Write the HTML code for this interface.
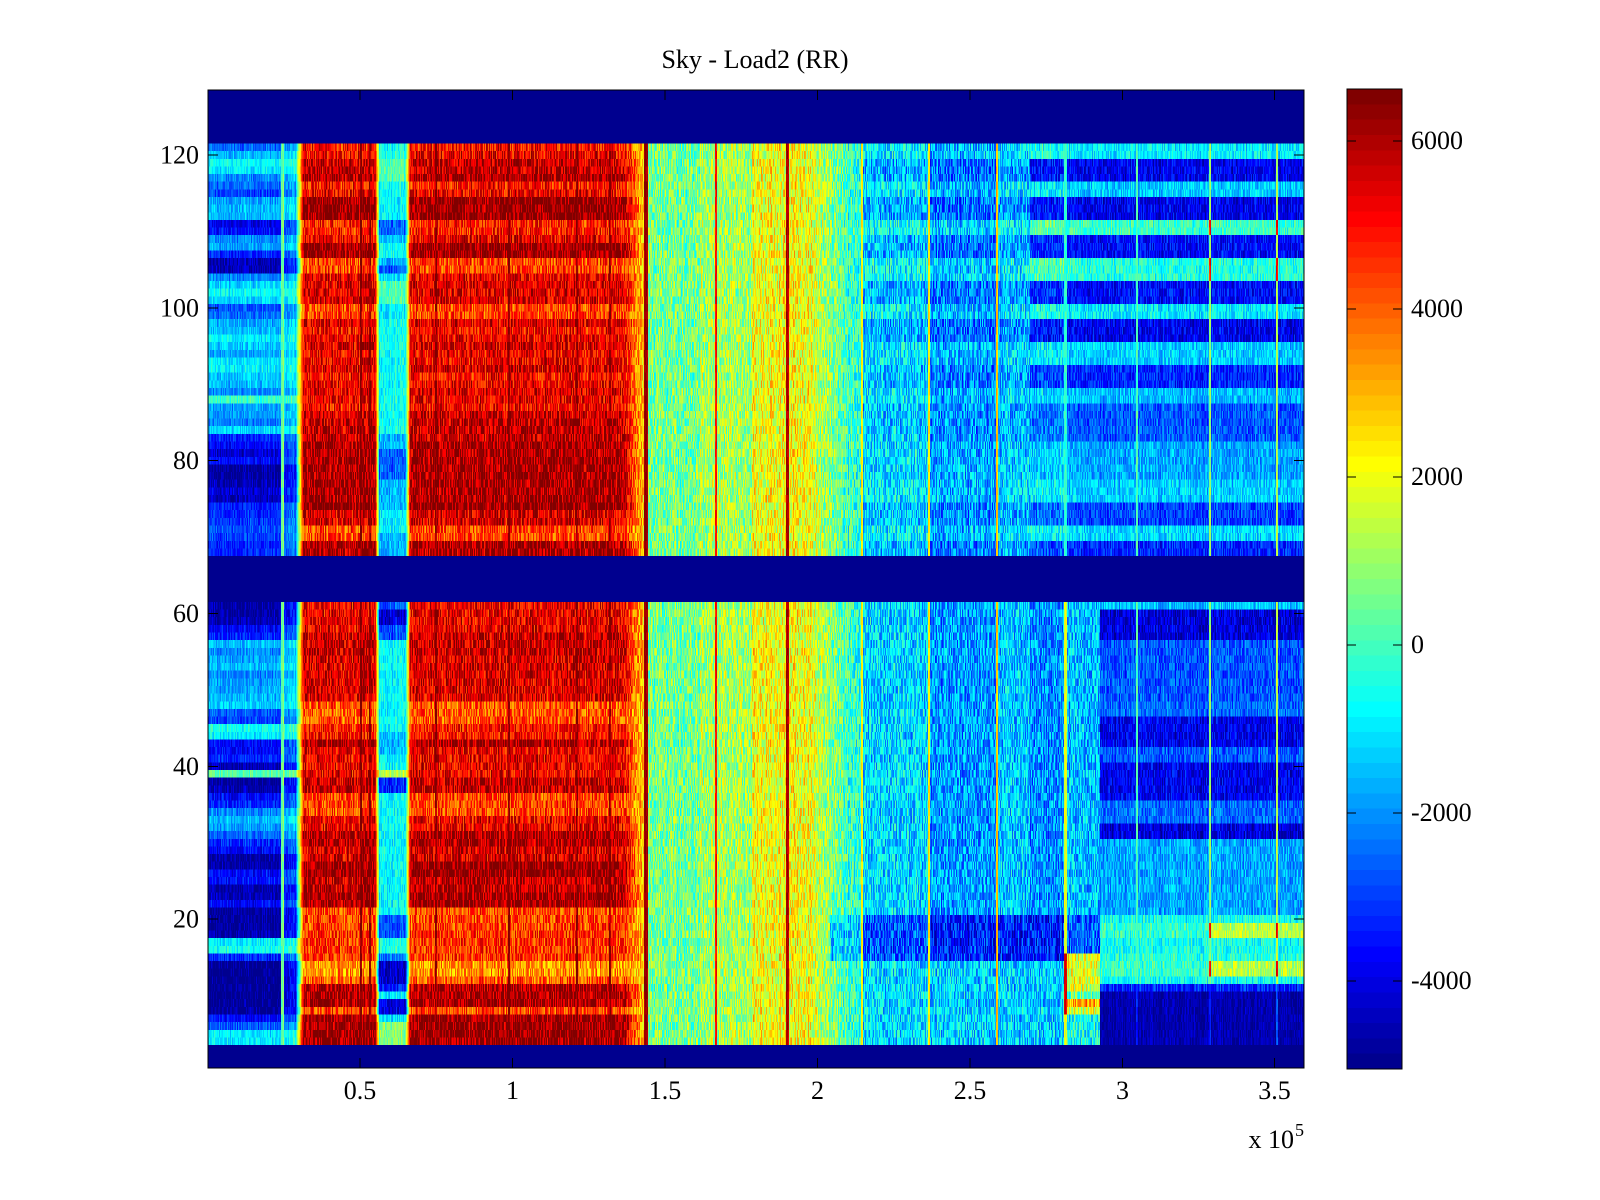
<!DOCTYPE html>
<html>
<head>
<meta charset="utf-8">
<style>
html,body{margin:0;padding:0;background:#fff;width:1600px;height:1200px;overflow:hidden}
#wrap{position:relative;width:1600px;height:1200px;background:#fff}
#fb{position:absolute;left:0;top:0}
#hm{position:absolute;left:208px;top:90px;width:1096px;height:978px;image-rendering:pixelated}
#cb{position:absolute;left:1347px;top:89px;width:55px;height:980px;image-rendering:pixelated}
#ov{position:absolute;left:0;top:0}
text{font-family:"Liberation Serif","DejaVu Serif",serif;font-size:26px;fill:#000}
</style>
</head>
<body>
<div id="wrap">
<svg id="fb" width="1600" height="1200" xmlns="http://www.w3.org/2000/svg">
<defs>
<linearGradient id="g1" x1="0" x2="1" y1="0" y2="0">
<stop offset="0" stop-color="#0050ff"/>
<stop offset="0.068" stop-color="#00a0ff"/>
<stop offset="0.08" stop-color="#40ffc0"/>
<stop offset="0.087" stop-color="#e00000"/>
<stop offset="0.153" stop-color="#d00000"/>
<stop offset="0.157" stop-color="#00e0ff"/>
<stop offset="0.18" stop-color="#00e0ff"/>
<stop offset="0.186" stop-color="#d00000"/>
<stop offset="0.38" stop-color="#d00000"/>
<stop offset="0.4" stop-color="#ffb000"/>
<stop offset="0.403" stop-color="#80ff80"/>
<stop offset="0.45" stop-color="#a0ff60"/>
<stop offset="0.496" stop-color="#ffff00"/>
<stop offset="0.55" stop-color="#e0ff20"/>
<stop offset="0.59" stop-color="#40ffc0"/>
<stop offset="0.6" stop-color="#00e0ff"/>
<stop offset="0.66" stop-color="#00a0ff"/>
<stop offset="0.722" stop-color="#00c0ff"/>
<stop offset="0.78" stop-color="#0060ff"/>
<stop offset="1" stop-color="#0050ff"/>
</linearGradient>
<linearGradient id="g2" x1="0" x2="0" y1="0" y2="1">
<stop offset="0" stop-color="#800000"/>
<stop offset="0.125" stop-color="#ff0000"/>
<stop offset="0.375" stop-color="#ffff00"/>
<stop offset="0.5" stop-color="#80ff80"/>
<stop offset="0.625" stop-color="#00ffff"/>
<stop offset="0.875" stop-color="#0000ff"/>
<stop offset="1" stop-color="#00008f"/>
</linearGradient>
</defs>
<rect x="208" y="90" width="1096" height="978" fill="#00008f"/>
<rect x="208" y="143" width="1096" height="413" fill="url(#g1)"/>
<rect x="208" y="602" width="1096" height="443" fill="url(#g1)"/>
<rect x="1347" y="89" width="55" height="980" fill="url(#g2)"/>
</svg>
<canvas id="hm" width="1096" height="128"></canvas>
<canvas id="cb" width="1" height="64"></canvas>
<svg id="ov" width="1600" height="1200" xmlns="http://www.w3.org/2000/svg">
<g stroke="#000" stroke-width="1" fill="none" shape-rendering="crispEdges">
<rect x="208" y="90" width="1096" height="978"/>
<rect x="1347" y="89" width="55" height="980"/>
<path d="M360 1068V1058M360 90V100M512.5 1068V1058M512.5 90V100M665 1068V1058M665 90V100M817.5 1068V1058M817.5 90V100M970 1068V1058M970 90V100M1122.5 1068V1058M1122.5 90V100M1274.5 1068V1058M1274.5 90V100"/>
<path d="M208 155H218M1304 155H1294M208 307.8H218M1304 307.8H1294M208 460.6H218M1304 460.6H1294M208 613.4H218M1304 613.4H1294M208 766.3H218M1304 766.3H1294M208 919.1H218M1304 919.1H1294"/>
<path d="M1347 141H1356M1402 141H1393M1347 309H1356M1402 309H1393M1347 477H1356M1402 477H1393M1347 645H1356M1402 645H1393M1347 813H1356M1402 813H1393M1347 981H1356M1402 981H1393"/>
</g>
<text x="755" y="68" text-anchor="middle">Sky - Load2 (RR)</text>
<g text-anchor="end">
<text x="199" y="163.5">120</text>
<text x="199" y="316.3">100</text>
<text x="199" y="469.1">80</text>
<text x="199" y="621.9">60</text>
<text x="199" y="774.8">40</text>
<text x="199" y="927.6">20</text>
</g>
<g text-anchor="middle">
<text x="360" y="1099">0.5</text>
<text x="512.5" y="1099">1</text>
<text x="665" y="1099">1.5</text>
<text x="817.5" y="1099">2</text>
<text x="970" y="1099">2.5</text>
<text x="1122.5" y="1099">3</text>
<text x="1274.5" y="1099">3.5</text>
</g>
<text x="1294" y="1148" text-anchor="end">x 10</text>
<text x="1295" y="1136" style="font-size:18px">5</text>
<g>
<text x="1411" y="149">6000</text>
<text x="1411" y="317">4000</text>
<text x="1411" y="485">2000</text>
<text x="1411" y="653">0</text>
<text x="1411" y="821">-2000</text>
<text x="1411" y="989">-4000</text>
</g>
</svg>
</div>
<script>
(function(){
var sd=987654321;
function rnd(){sd^=sd<<13;sd^=sd>>>17;sd^=sd<<5;return ((sd>>>0)%1000003)/1000003;}
function rl(a){var o=[];for(var q=0;q<a.length;q++){for(var j=0;j<a[q][0];j++)o.push(a[q][1]);}return o;}
var TL=[0.22,0.3,0.37,0.35,0.25,0.22,0.18,0.28,0.3,0.3,0.1,0.13,0.25,0.28,0.15,0.05,0.05,0.25,0.33,0.37,0.33,0.2,0.22,0.28,0.3,0.35,0.32,0.28,0.35,0.36,0.32,0.3,0.25,0.42,0.27,0.27,0.24,0.33,0.15,0.12,0.08,0.12,0.02,0.02,0.05,0.08,0.05,0.15,0.15,0.17,0.2,0.18,0.15,0.15];
var BL=[0.03,0.03,0.04,0.12,0.15,0.3,0.25,0.28,0.3,0.25,0.28,0.28,0.3,0.32,0.2,0.18,0.38,0.35,0.12,0.12,0.15,0.05,0.45,0.02,0.04,0.12,0.15,0.25,0.3,0.27,0.22,0.15,0.12,0.03,0.03,0.12,0.13,0.04,0.05,0.12,0.02,0.02,0.02,0.04,0.35,0.38,0.15,0.01,0.01,0.01,0.01,0.01,0.01,0.02,0.12,0.2,0.35,0.35];
var TR=rl([[1,.85],[1,.88],[2,.92],[1,.95],[1,.85],[1,.88],[3,.97],[2,.84],[1,.88],[2,.97],[2,.8],[1,.88],[3,.9],[2,.8],[1,.9],[1,.86],[1,.88],[1,.9],[1,.87],[1,.88],[1,.9],[1,.86],[1,.88],[1,.9],[1,.88],[1,.86],[4,.92],[8,.95],[1,.98],[2,.9],[2,.8],[2,.95]]);
var BR=rl([[4,.88],[3,.92],[6,.9],[3,.78],[2,.85],[1,.95],[4,.88],[2,.92],[3,.8],[2,.88],[2,.95],[2,.9],[2,.97],[2,.93],[2,.96],[3,.8],[4,.82],[2,.72],[1,.78],[3,.95],[1,.8],[4,.97]]);
var TG=rl([[1,.38],[1,.4],[3,.45],[2,.38],[3,.36],[2,.22],[1,.3],[2,.38],[1,.3],[1,.2],[1,.35],[3,.45],[2,.35],[15,.38],[2,.3],[4,.22],[4,.3],[3,.36],[3,.3]]);
var BG=rl([[1,.2],[2,.08],[2,.2],[12,.37],[3,.3],[2,.37],[1,.55],[2,.15],[16,.37],[3,.2],[2,.4],[1,.25],[3,.07],[1,.15],[1,.35],[2,.1],[1,.35],[3,.5]]);
var TRt=rl([[2,.35],[3,.1],[2,.32],[3,.1],[2,.42],[3,.12],[3,.4],[3,.12],[2,.35],[3,.1],[3,.32],[3,.15],[2,.3],[5,.2],[5,.28],[3,.32],[3,.18],[2,.33],[2,.15]]);
var BRt=rl([[1,.3],[4,.08],[8,.2],[2,.22],[4,.1],[2,.2],[5,.1],[3,.22],[2,.08],[10,.28],[1,.38],[2,.55],[2,.38],[1,.4],[2,.55],[1,.38],[1,.15],[7,.04]]);
var u=[],i,k;
for(i=1;i<=16;i++)u.push(i/16);for(i=0;i<15;i++)u.push(1);for(i=16;i>=1;i--)u.push(i/16);
function f(n){return (n>=1&&n<=47)?u[n-1]:0;}
var J=[];for(k=1;k<=64;k++)J.push([Math.round(255*f(k-24)),Math.round(255*f(k-8)),Math.round(255*f(k+8))]);
function col(t){var q=Math.floor(t*64);if(q<0)q=0;if(q>63)q=63;return J[q];}
function isLine(x){return (x>=715&&x<=716)||(x>=786&&x<=788)||(x>=861&&x<=862)||(x>=928&&x<=929)||(x>=996&&x<=997)||(x>=1064&&x<=1066)||(x>=1136&&x<=1137)||(x>=1209&&x<=1210)||(x>=1276&&x<=1277);}
var B1065=rl([[41,.3],[5,.2],[5,.58],[1,.45],[1,.7],[1,.58],[4,.38]]);
function mid(x,T,ii){
 var v=0.3,nz=0.11,s=T?TRt[ii]:BRt[ii];
 if(x<700)v=0.48;else if(x<752)v=0.53;else if(x<812)v=0.61;else if(x<848)v=0.58-0.16*(x-812)/36;else if(x<862)v=0.41;else if(x<929)v=0.33;else if(x<997)v=0.27;else if(x<1030)v=0.31;else if(x<1065)v=0.22;else v=0.2;
 if(T){
  if(x>=1065){v=s;nz=0.07;}
  else if(x>=1030){v=s+0.04;nz=0.08;}
  else if(x>=862){v+=(s-0.25)*0.3;}
 }else{
  if(x>=1100){v=s;nz=0.07;if(x<1210){if(s>=0.5)v=0.42;}if(ii>=51)nz=0.035;}
  else if(x>=1065){v=B1065[ii];}
  else{
   if(x>=1030&&x<1065)v=0.26;
   if(ii>=41&&ii<=46){ if(x>=930)v=0.14; else if(x>=862)v=0.2; else if(x>=830)v=0.32; }
   if(x>=862&&ii>=47)v=Math.max(v,0.32);
  }
 }
 if(x>=715&&x<=716)v=0.86;
 else if(x>=786&&x<=788)v=0.95;
 else if(x>=861&&x<=862)v=0.62;
 else if(x>=928&&x<=929)v=0.63;
 else if(x>=996&&x<=997)v=0.68;
 else if(x>=1064&&x<=1066)v=T?0.42:((ii>=46&&ii<=53)?0.9:0.6);
 else if(x>=1136&&x<=1137)v=(!T&&ii>=50)?0.12:0.42;
 else if(x>=1209&&x<=1210)v=(!T&&ii>=50)?0.15:((T?s>=0.38:s>=0.5)?0.84:0.5);
 else if(x>=1276&&x<=1277)v=(!T&&ii>=50)?0.2:((T?s>=0.38:s>=0.5)?0.88:0.55);
 if(isLine(x))nz=0.04;
 return [v,nz];
}
function val(x,T,ii,c){
 var L=T?TL[ii]:BL[ii],R=T?TR[ii]:BR[ii],G=T?TG[ii]:BG[ii],v,nz=0.1,q;
 if(x<281){v=L;nz=0.05;}
 else if(x<284){v=0.48;nz=0.04;}
 else if(x<295){v=L*0.8+0.1;nz=0.05;}
 else if(x<303){q=(x-295)/8;v=(L*0.8+0.1)*(1-q)+R*q;nz=0.03;}
 else if(x<375){v=R;if((x>=360&&x<=361)||(x>=369&&x<=370))v=0.99;}
 else if(x<379){q=(x-375)/4;v=R*(1-q)+G*q;nz=0.03;}
 else if(x<405){v=G;nz=0.06;}
 else if(x<410){q=(x-405)/5;v=G*(1-q)+R*q;nz=0.03;}
 else if(x<622){v=R;if(x===435||x===436||x===508||x===509||x===576||x===577||x===609||x===610)v=0.99;}
 else if(x<644){q=(x-622)/22;v=R*(1-q)+0.66*q;}
 else if(x<648){v=0.96;nz=0.03;}
 else{var m=mid(x,T,ii);v=m[0];nz=m[1];}
 return v+(rnd()-0.5)*2*nz+colN[c];
}
var W=1096,H=128,colN=[],c,j;
for(c=0;c<W;c++)colN.push((rnd()-0.5)*0.05);
var cv=document.getElementById('hm');var ctx=cv.getContext('2d');var im=ctx.createImageData(W,H);
for(j=0;j<H;j++){
 var r=128-j,T=null,ii=0;
 if(r>=68&&r<=121){T=true;ii=121-r;}else if(r>=4&&r<=61){T=false;ii=61-r;}
 for(c=0;c<W;c++){
  var t=(T===null)?0:val(208+c,T,ii,c);
  var p=col(t),o=(j*W+c)*4;
  im.data[o]=p[0];im.data[o+1]=p[1];im.data[o+2]=p[2];im.data[o+3]=255;
 }
}
ctx.putImageData(im,0,0);
var cb=document.getElementById('cb');var cx=cb.getContext('2d');var ci=cx.createImageData(1,64);
for(j=0;j<64;j++){var pp=J[63-j];ci.data[j*4]=pp[0];ci.data[j*4+1]=pp[1];ci.data[j*4+2]=pp[2];ci.data[j*4+3]=255;}
cx.putImageData(ci,0,0);
})();
</script>
</body>
</html>
